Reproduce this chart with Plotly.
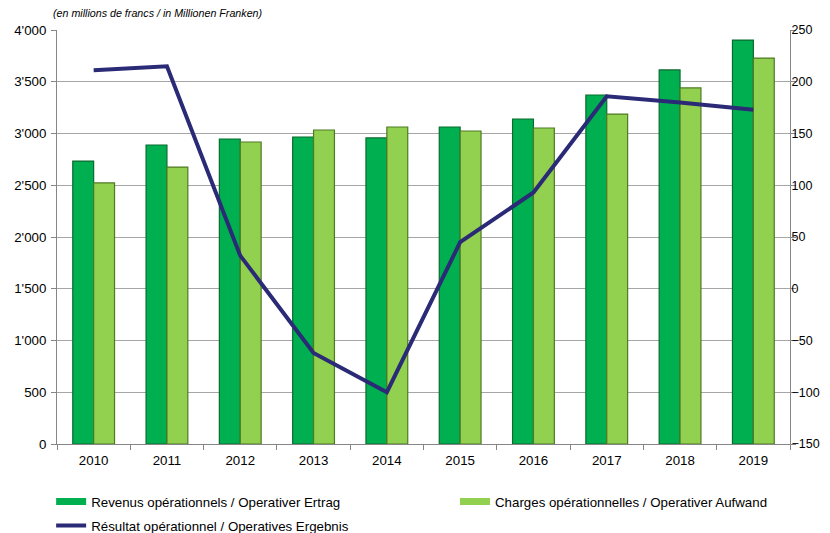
import plotly.graph_objects as go

years = ["2010", "2011", "2012", "2013", "2014", "2015", "2016", "2017", "2018", "2019"]
revenus = [2734, 2889, 2947, 2966, 2957, 3063, 3140, 3372, 3614, 3903]
charges = [2522, 2676, 2918, 3034, 3063, 3024, 3053, 3188, 3440, 3729]
resultat = [211, 215, 32, -62, -100, 45, 93, 186, 180, 173]

left_ticks = [0, 500, 1000, 1500, 2000, 2500, 3000, 3500, 4000]
right_ticks = [-150, -100, -50, 0, 50, 100, 150, 200, 250]

names = [
    "Revenus opérationnels / Operativer Ertrag",
    "Charges opérationnelles / Operativer Aufwand",
    "Résultat opérationnel / Operatives Ergebnis",
]
col_rev, col_cha, col_res = "#00b050", "#92d050", "#2a2a76"

font = "Liberation Sans, Arial, sans-serif"

fig = go.Figure()
fig.add_trace(go.Bar(
    x=years, y=revenus, name=names[0], showlegend=False,
    marker=dict(color=col_rev, line=dict(color="#0b6b2e", width=1.2)),
    offsetgroup="a", yaxis="y",
))
fig.add_trace(go.Bar(
    x=years, y=charges, name=names[1], showlegend=False,
    marker=dict(color=col_cha, line=dict(color="#4f7a22", width=1.2)),
    offsetgroup="b", yaxis="y",
))
fig.add_trace(go.Scatter(
    x=years, y=resultat, name=names[2], showlegend=False,
    mode="lines", line=dict(color=col_res, width=4), yaxis="y2",
))
# legend entries (wide rectangle swatches like the reference)
fig.add_trace(go.Scatter(x=[None], y=[None], mode="lines", name=names[0],
                         line=dict(color=col_rev, width=7), legend="legend"))
fig.add_trace(go.Scatter(x=[None], y=[None], mode="lines", name=names[1],
                         line=dict(color=col_cha, width=7), legend="legend2"))
fig.add_trace(go.Scatter(x=[None], y=[None], mode="lines", name=names[2],
                         line=dict(color=col_res, width=4), legend="legend3"))

leg_common = dict(orientation="h", xanchor="left", yanchor="middle",
                  font=dict(size=13.3), itemwidth=30, bgcolor="rgba(0,0,0,0)")

fig.update_layout(
    width=822, height=525,
    margin=dict(l=49, r=40, t=22, b=89, autoexpand=False),
    paper_bgcolor="white", plot_bgcolor="white",
    separators=".'",
    font=dict(family=font, size=13.3, color="#000000"),
    barmode="group", bargap=0.43, bargroupgap=0.0,
    xaxis=dict(
        type="category", showline=True, linecolor="#868686", linewidth=1,
        ticks="outside", tickson="boundaries", ticklen=5, tickcolor="#868686",
        showgrid=False, zeroline=False, ticklabelstandoff=4,
    ),
    yaxis=dict(
        range=[0, 4000], tickvals=left_ticks, tickformat=",d",
        showline=True, linecolor="#868686", linewidth=1,
        ticks="outside", ticklen=5, tickcolor="#868686",
        showgrid=True, gridcolor="#a6a6a6", gridwidth=1, zeroline=False,
        ticklabelstandoff=2,
    ),
    yaxis2=dict(
        range=[-150, 250], tickvals=right_ticks, overlaying="y", side="right",
        showline=True, linecolor="#868686", linewidth=1,
        ticks="outside", ticklen=5, tickcolor="#868686",
        showgrid=False, zeroline=False, ticklabelstandoff=-7,
        tickfont=dict(size=12.5),
    ),
    legend=dict(x=-0.008, y=-0.140, **leg_common),
    legend2=dict(x=0.543, y=-0.140, **leg_common),
    legend3=dict(x=-0.008, y=-0.198, **leg_common),
    annotations=[dict(
        text="<i>(en millions de francs / in Millionen Franken)</i>",
        xref="paper", yref="paper", x=-0.008, y=1.041,
        xanchor="left", yanchor="middle", showarrow=False,
        font=dict(size=10.7, family=font),
    )],
)

fig.write_html("out.html")
